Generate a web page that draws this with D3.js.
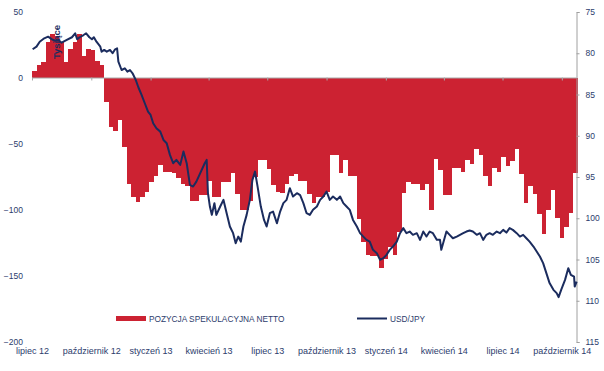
<!DOCTYPE html>
<html>
<head>
<meta charset="utf-8">
<script src="https://cdn.jsdelivr.net/npm/d3@7"></script>
<style>
  body { margin: 0; background: #fff; }
  text { font-family: "Liberation Sans", Arial, sans-serif; }
</style>
</head>
<body>
<div id="chart"></div>
<script>
// weekly net speculative position (thousands of contracts), first week starts 2012-07-01
var firstWeek = "2012-07-01";
var netPosition = [
  5, 9.5, 12, 27, 33, 32, 27, 12, 22, 27, 33, 17, 22, 21, 13, 10,
  -18, -37, -40, -32, -52, -80, -90, -94, -90, -86, -79, -74, -66, -71, -71, -72,
  -76, -80, -82, -93, -93, -89, -89, -78, -90, -90, -79, -79, -72, -88, -100, -100,
  -93, -75, -62, -62, -69, -81, -86, -87, -80, -74, -73, -78, -78, -88, -95, -90,
  -90, -86, -58, -58, -72, -62, -74, -74, -107, -124, -134, -135, -135, -144, -137, -128,
  -134, -117, -87, -79, -80, -80, -85, -80, -100, -61, -70, -89, -89, -68, -68, -71,
  -62, -65, -54, -58, -74, -82, -68, -71, -60, -67, -63, -54, -73, -95, -82, -88,
  -103, -118, -100, -85, -106, -121, -113, -102, -72
];

// USD/JPY readings
var fxDates = [
  "2012-07-02","2012-07-08","2012-07-13","2012-07-20","2012-07-26","2012-08-01","2012-08-06","2012-08-11",
  "2012-08-16","2012-08-24","2012-09-01","2012-09-06","2012-09-09","2012-09-13","2012-09-19","2012-09-23",
  "2012-09-28","2012-10-02","2012-10-05","2012-10-09","2012-10-15","2012-10-17","2012-10-21","2012-10-25",
  "2012-10-30","2012-11-03","2012-11-07","2012-11-10","2012-11-12","2012-11-17","2012-11-22","2012-11-26",
  "2012-11-30","2012-12-04","2012-12-09","2012-12-13","2012-12-18","2012-12-23","2012-12-28","2013-01-01",
  "2013-01-05","2013-01-10","2013-01-16","2013-01-21","2013-01-26","2013-01-31","2013-02-05","2013-02-10",
  "2013-02-16","2013-02-21","2013-02-26","2013-03-03","2013-03-08","2013-03-13","2013-03-19","2013-03-26",
  "2013-03-29","2013-03-31","2013-04-03","2013-04-06","2013-04-10","2013-04-13","2013-04-19","2013-04-24",
  "2013-04-29","2013-05-04","2013-05-09","2013-05-13","2013-05-17","2013-05-21","2013-05-25","2013-05-30",
  "2013-06-04","2013-06-08","2013-06-12","2013-06-16","2013-06-21","2013-06-26","2013-06-30","2013-07-05",
  "2013-07-10","2013-07-16","2013-07-21","2013-07-26","2013-07-31","2013-08-05","2013-08-10","2013-08-16",
  "2013-08-21","2013-08-26","2013-08-31","2013-09-05","2013-09-10","2013-09-16","2013-09-21","2013-09-26",
  "2013-10-01","2013-10-06","2013-10-11","2013-10-17","2013-10-22","2013-10-27","2013-11-01","2013-11-06",
  "2013-11-11","2013-11-17","2013-11-22","2013-11-27","2013-12-02","2013-12-07","2013-12-12","2013-12-18",
  "2013-12-23","2013-12-28","2014-01-02","2014-01-07","2014-01-12","2014-01-18","2014-01-23","2014-01-28",
  "2014-02-02","2014-02-07","2014-02-12","2014-02-18","2014-02-23","2014-02-28","2014-03-05","2014-03-10",
  "2014-03-15","2014-03-21","2014-03-26","2014-03-28","2014-04-05","2014-04-10","2014-04-15","2014-04-21",
  "2014-04-26","2014-05-01","2014-05-06","2014-05-11","2014-05-16","2014-05-22","2014-05-27","2014-06-01",
  "2014-06-06","2014-06-11","2014-06-16","2014-06-22","2014-06-27","2014-07-02","2014-07-07","2014-07-12",
  "2014-07-17","2014-07-23","2014-07-28","2014-08-02","2014-08-07","2014-08-12","2014-08-18","2014-08-23",
  "2014-08-28","2014-09-02","2014-09-07","2014-09-12","2014-09-18","2014-09-23","2014-09-26","2014-09-30",
  "2014-10-06","2014-10-11","2014-10-15","2014-10-20","2014-10-21","2014-10-24"
];
var fxValues = [
  79.52, 79.20, 78.60, 78.19, 77.99, 78.31, 78.48, 78.39,
  78.72, 78.39, 78.06, 77.58, 78.31, 78.06, 77.79, 77.58,
  78.06, 78.31, 78.06, 78.60, 79.20, 79.81, 79.60, 79.81,
  79.60, 80.00, 79.52, 79.40, 81.02, 82.03, 81.82, 82.23,
  82.03, 82.43, 83.24, 84.12, 85.05, 86.06, 87.08, 87.48,
  88.49, 89.09, 89.50, 90.51, 90.91, 92.32, 93.33, 92.93,
  93.53, 91.92, 93.33, 95.96, 96.16, 95.56, 94.54, 93.33,
  92.93, 96.96, 98.58, 99.59, 98.17, 99.59, 98.58, 97.77,
  99.39, 101.00, 101.81, 103.02, 102.22, 102.83, 101.00, 99.59,
  97.77, 95.35, 94.35, 96.16, 98.58, 100.20, 101.00, 99.39,
  99.19, 100.60, 99.19, 98.17, 97.77, 96.36, 97.37, 96.96,
  97.20, 98.17, 99.39, 99.59, 98.98, 98.58, 97.77, 97.37,
  96.77, 97.77, 97.37, 97.77, 97.37, 98.17, 98.58, 98.98,
  100.20, 101.00, 101.81, 102.22, 102.62, 102.83, 103.83, 104.23,
  105.04, 104.84, 104.44, 103.83, 103.43, 102.83, 101.81, 101.20,
  101.81, 101.61, 102.01, 101.81, 102.62, 101.61, 102.22, 101.61,
  101.81, 102.62, 102.62, 103.83, 101.61, 102.01, 102.42, 102.22,
  102.01, 101.81, 101.61, 101.49, 101.61, 102.01, 101.81, 102.62,
  102.01, 101.81, 102.01, 101.61, 101.81, 101.41, 101.74, 101.20,
  101.41, 101.81, 102.22, 102.01, 102.42, 102.83, 103.43, 104.04,
  104.64, 105.44, 106.65, 107.86, 108.68, 109.08, 109.56, 108.68,
  107.47, 106.05, 106.86, 107.07, 108.28, 107.67
];

var quarterLabels = ["lipiec 12", "październik 12", "styczeń 13", "kwiecień 13", "lipiec 13",
  "październik 13", "styczeń 14", "kwiecień 14", "lipiec 14", "październik 14"];
var leftTicks = [50, 0, -50, -100, -150, -200];
var rightTicks = [75, 80, 85, 90, 95, 100, 105, 110, 115];
var legendLabels = ["POZYCJA SPEKULACYJNA NETTO", "USD/JPY"];

var width = 604, height = 371;
var barColor = "#cc2232";
var lineColor = "#1b2c5e";
var textColor = "#2c3c6c";

var parseDate = d3.timeParse("%Y-%m-%d");
var start = parseDate(firstWeek);

var weeks = netPosition.map(function(v, i) {
  return { date: d3.timeDay.offset(start, 7 * i), value: v };
});
var fx = fxDates.map(function(d, i) {
  return { date: parseDate(d), value: fxValues[i] };
});

var svg = d3.select("#chart").append("svg")
  .attr("width", width)
  .attr("height", height);

svg.append("rect").attr("width", width).attr("height", height).attr("fill", "#fff");

var x = d3.scaleTime()
  .domain([start, parseDate("2014-10-23")])
  .range([32, 576]);
var y = d3.scaleLinear().domain([50, -200]).range([12, 342]);
var y2 = d3.scaleLinear().domain([75, 115]).range([12, 342]);

// bars, snapped to whole pixels so neighbours touch without seams
svg.append("g").selectAll("rect")
  .data(weeks)
  .enter().append("rect")
  .attr("x", function(d) { return Math.round(x(d.date)); })
  .attr("width", function(d) {
    return Math.round(x(d3.timeDay.offset(d.date, 7))) - Math.round(x(d.date));
  })
  .attr("y", function(d) { return Math.round(y(Math.max(0, d.value))); })
  .attr("height", function(d) { return Math.round(Math.abs(y(d.value) - y(0))); })
  .attr("fill", barColor)
  .attr("shape-rendering", "crispEdges");

// zero line with quarter ticks
var quarterTicks = x.ticks(d3.timeMonth.every(3));
var zeroAxis = svg.append("g")
  .attr("transform", "translate(0," + (y(0) - 0.5) + ")")
  .call(d3.axisBottom(x).tickValues(quarterTicks).tickSize(3).tickSizeOuter(0).tickFormat(""));
zeroAxis.selectAll("path, line").attr("stroke", "#a8a8a8");

// month labels along the bottom
var bottomAxis = svg.append("g")
  .attr("transform", "translate(0,342)")
  .call(d3.axisBottom(x).tickValues(quarterTicks).tickSize(0).tickPadding(6)
    .tickFormat(function(d, i) { return quarterLabels[i]; }));
bottomAxis.select(".domain").remove();
bottomAxis.selectAll("text")
  .attr("fill", textColor)
  .style("font-size", "9px")
  .style("font-family", "Liberation Sans, Arial, sans-serif");

// left axis, labels only
var leftAxis = svg.append("g")
  .attr("transform", "translate(26,0)")
  .call(d3.axisLeft(y).tickValues(leftTicks).tickSize(0).tickPadding(3));
leftAxis.select(".domain").remove();
leftAxis.selectAll("text")
  .attr("fill", textColor)
  .style("font-size", "8.5px")
  .style("font-family", "Liberation Sans, Arial, sans-serif");

// right axis
var rightAxis = svg.append("g")
  .attr("transform", "translate(576.5,0)")
  .call(d3.axisRight(y2).tickValues(rightTicks).tickSize(3).tickSizeOuter(3).tickPadding(6));
rightAxis.selectAll("path, line").attr("stroke", "#a0a0a0");
rightAxis.selectAll("text")
  .attr("fill", textColor)
  .style("font-size", "8.5px")
  .style("font-family", "Liberation Sans, Arial, sans-serif");

// USD/JPY line on the right scale
var line = d3.line()
  .x(function(d) { return x(d.date); })
  .y(function(d) { return y2(d.value); });

svg.append("path")
  .datum(fx)
  .attr("d", line)
  .attr("fill", "none")
  .attr("stroke", lineColor)
  .attr("stroke-width", 2)
  .attr("stroke-linejoin", "round");

// axis title
svg.append("text")
  .attr("transform", "translate(60,42) rotate(-90)")
  .attr("text-anchor", "middle")
  .attr("fill", lineColor)
  .style("font-size", "9.5px")
  .style("font-weight", "bold")
  .text("Tysiące");

// legend
var legend = svg.append("g").style("font-size", "8.3px").attr("fill", textColor);
legend.append("rect")
  .attr("x", 116).attr("y", 316).attr("width", 30).attr("height", 5)
  .attr("fill", barColor);
legend.append("text").attr("x", 149).attr("y", 321.5).text(legendLabels[0]);
legend.append("line")
  .attr("x1", 357).attr("x2", 387).attr("y1", 318.5).attr("y2", 318.5)
  .attr("stroke", lineColor).attr("stroke-width", 2);
legend.append("text").attr("x", 390).attr("y", 321.5).text(legendLabels[1]);
</script>
</body>
</html>
